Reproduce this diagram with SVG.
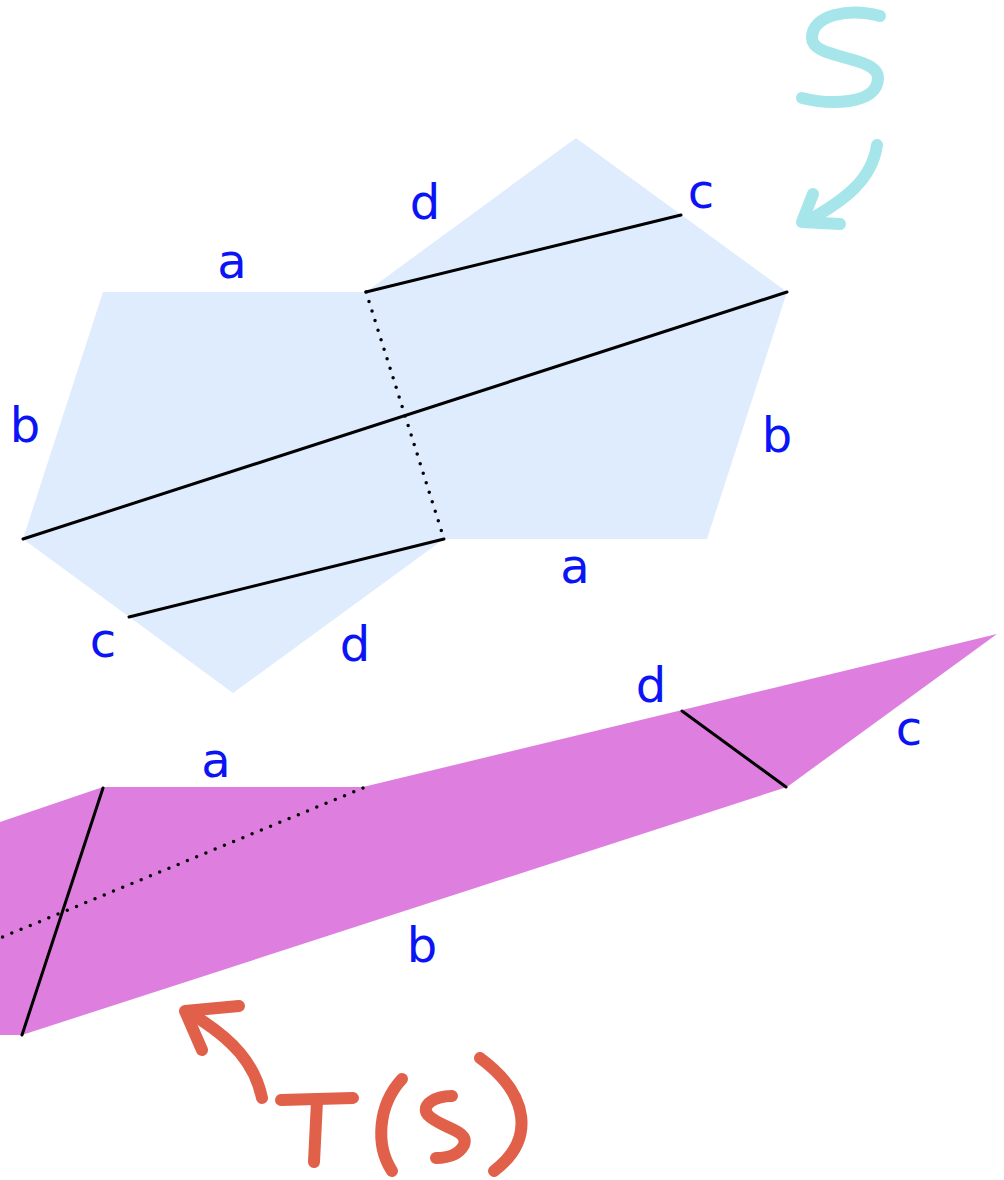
<svg xmlns="http://www.w3.org/2000/svg" width="1004" height="1180" viewBox="0 0 1004 1180">
<style>
.lbl{font-family:"DejaVu Sans",Verdana,sans-serif;font-size:48px;fill:#0a14f5;text-anchor:middle}
.solid{stroke:#000;stroke-width:3;fill:none;stroke-linecap:round}
.dot{stroke:#000;stroke-width:3.5;fill:none;stroke-linecap:round;stroke-dasharray:0 10}
.cyan{stroke:#a6e6ea;stroke-width:12;fill:none;stroke-linecap:round;stroke-linejoin:round}
.red{stroke:#e0604a;stroke-width:12;fill:none;stroke-linecap:round;stroke-linejoin:round}
</style>
<rect width="1004" height="1180" fill="#fff"/>
<g id="S">
<polygon points="103,292 366,292 576,138 787,292 707,539 444,539 233,693 23,539" fill="#dfecfd"/>
<text class="lbl" x="232" y="278">a</text>
<text class="lbl" x="425" y="219">d</text>
<text class="lbl" x="701" y="208">c</text>
<text class="lbl" x="25" y="442">b</text>
<text class="lbl" x="777" y="452">b</text>
<text class="lbl" x="575" y="583">a</text>
<text class="lbl" x="103" y="657">c</text>
<text class="lbl" x="355" y="661">d</text>
</g>
<g id="TS">
<polygon points="0,822 103,787 363,787 997,634 787,787 22,1035 0,1035" fill="#de7fe0"/>
<text class="lbl" x="216" y="777">a</text>
<text class="lbl" x="651" y="702">d</text>
<text class="lbl" x="909" y="745">c</text>
<text class="lbl" x="422" y="962">b</text>
</g>
<g id="connectors">
<line class="solid" x1="366" y1="292" x2="681" y2="215"/>
<line class="solid" x1="787" y1="292" x2="23" y2="539"/>
<line class="solid" x1="444" y1="539" x2="129" y2="617"/>
<line class="dot" x1="366" y1="292" x2="444" y2="539"/>
<line class="solid" x1="103" y1="788" x2="22" y2="1035"/>
<line class="dot" x1="363" y1="788" x2="0" y2="938"/>
<line class="solid" x1="682" y1="711" x2="786" y2="787"/>
</g>
<g id="label-S">
<path class="cyan" d="M 880 16 C 850 8, 812 14, 812 38 C 812 60, 878 55, 878 78 C 878 105, 830 105, 802 98"/>
<path class="cyan" d="M 877 145 C 872 180, 845 200, 806 222"/>
<path class="cyan" d="M 813 194 L 802 222 L 840 224"/>
</g>
<g id="label-TS">
<path class="red" d="M 262 1098 C 255 1065, 235 1040, 190 1013"/>
<path class="red" d="M 239 1006 L 185 1011 L 202 1050"/>
<path class="red" d="M 281 1100 L 353 1098"/>
<path class="red" d="M 317 1101 L 314 1162"/>
<path class="red" d="M 402 1079 C 378 1105, 375 1145, 392 1171"/>
<path class="red" d="M 452 1096 C 435 1096, 420 1105, 428 1115 C 440 1128, 470 1130, 464 1145 C 458 1156, 445 1158, 436 1158"/>
<path class="red" d="M 480 1058 C 530 1095, 535 1140, 494 1171"/>
</g>
</svg>
